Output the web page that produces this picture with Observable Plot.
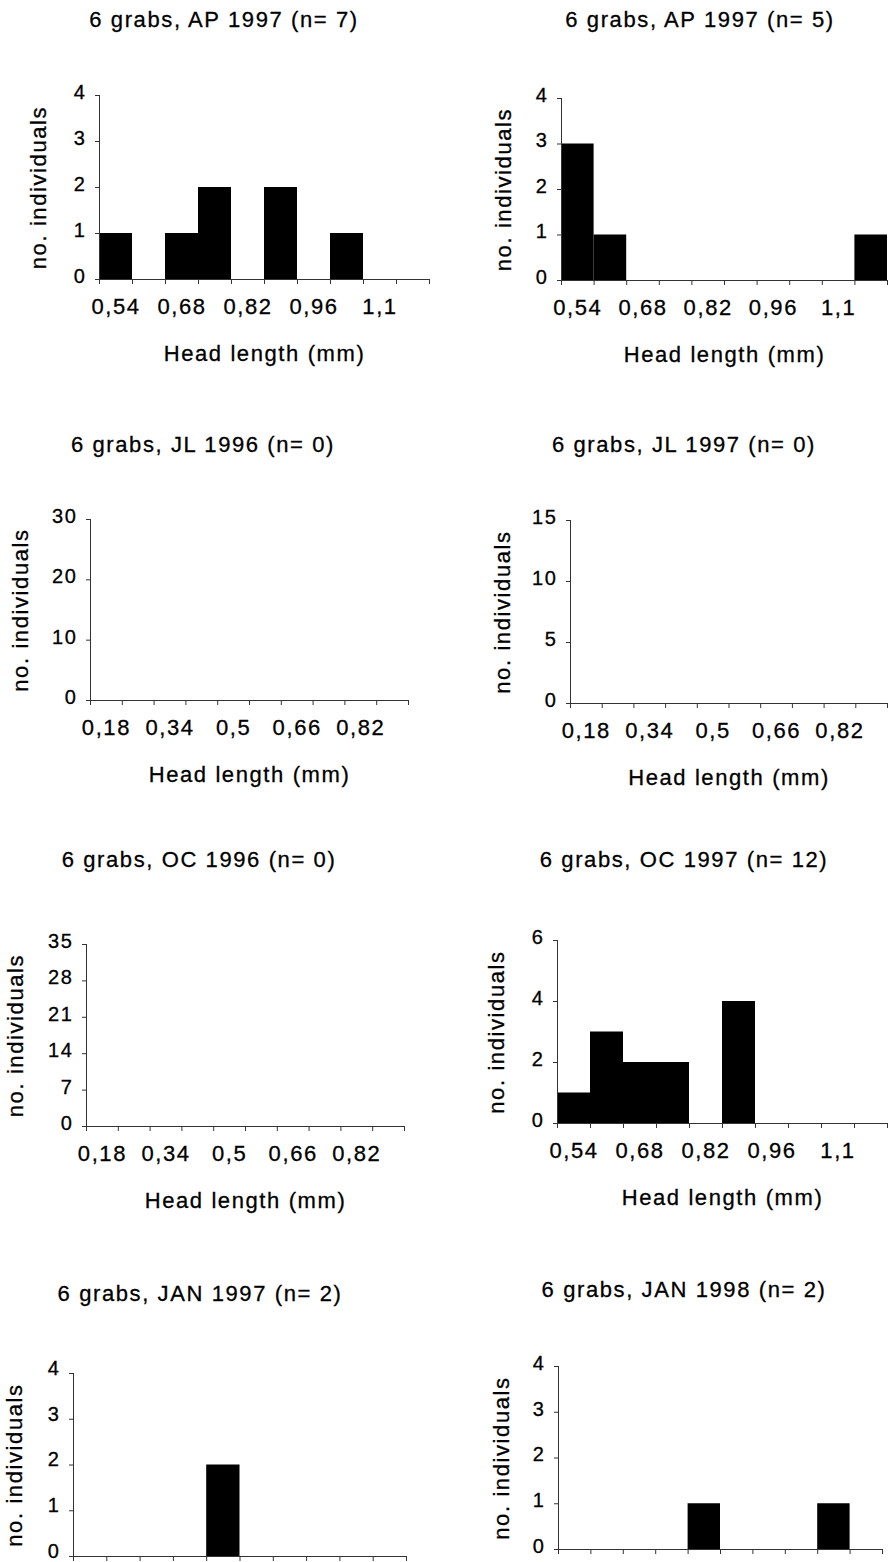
<!DOCTYPE html>
<html>
<head>
<meta charset="utf-8">
<script src="https://cdn.jsdelivr.net/npm/d3@7"></script>
<script src="https://cdn.jsdelivr.net/npm/@observablehq/plot@0.6"></script>
<style>
  html, body { margin: 0; padding: 0; background: #fff; overflow: hidden; }
  #page { position: relative; width: 888px; height: 1562px; overflow: hidden; background: #fff; }
  .title { position: absolute; font-family: "Liberation Sans", Arial, sans-serif; font-size: 22px; letter-spacing: 1.6px; line-height: 22px; white-space: nowrap; color: #000; transform: translateX(-50%); -webkit-text-stroke: 0.3px #000; }
  .panel { position: absolute; }
  .panel text { stroke: #000; stroke-width: 0.3px; }
</style>
</head>
<body>
<div id="page"></div>
<script>
// ---- data ----
const bins054 = [0.54, 0.61, 0.68, 0.75, 0.82, 0.89, 0.96, 1.03, 1.10, 1.17];
const bins018 = [0.18, 0.26, 0.34, 0.42, 0.50, 0.58, 0.66, 0.74, 0.82, 0.90];
const tickLabels054 = ["0,54", "0,68", "0,82", "0,96", "1,1"];
const tickLabels018 = ["0,18", "0,34", "0,5", "0,66", "0,82"];

const countsAP1997a = [1, 0, 1, 2, 0, 2, 0, 1, 0, 0];
const countsAP1997b = [3, 1, 0, 0, 0, 0, 0, 0, 0, 1];
const countsJL1996  = [0, 0, 0, 0, 0, 0, 0, 0, 0, 0];
const countsJL1997  = [0, 0, 0, 0, 0, 0, 0, 0, 0, 0];
const countsOC1996  = [0, 0, 0, 0, 0, 0, 0, 0, 0, 0];
const countsOC1997  = [1, 3, 2, 2, 0, 4, 0, 0, 0, 0];
const countsJAN1997 = [0, 0, 0, 0, 2, 0, 0, 0, 0, 0];
const countsJAN1998 = [0, 0, 0, 0, 1, 0, 0, 0, 1, 0];

const yTicks4  = [0, 1, 2, 3, 4];
const yTicks30 = [0, 10, 20, 30];
const yTicks15 = [0, 5, 10, 15];
const yTicks35 = [0, 7, 14, 21, 28, 35];
const yTicks6  = [0, 2, 4, 6];

const titles = [
  "6 grabs, AP 1997 (n= 7)", "6 grabs, AP 1997 (n= 5)",
  "6 grabs, JL 1996 (n= 0)", "6 grabs, JL 1997 (n= 0)",
  "6 grabs, OC 1996 (n= 0)", "6 grabs, OC 1997 (n= 12)",
  "6 grabs, JAN 1997 (n= 2)", "6 grabs, JAN 1998 (n= 2)"
];
const xLabel = "Head length (mm)";
const yLabel = "no. individuals";

// ---- layout (pixels) ----
// showX: bottom row's x labels fall below the visible page, as in the reference
const layout = [
  {left: 0,   ax: 99,  xEnd: 429, yTop: 95,   zero: 279,  tx: 224, tb: 28,   lo: 69, ty: -3, showX: true},
  {left: 444, ax: 561, xEnd: 887, yTop: 98,   zero: 280,  tx: 700, tb: 28,   lo: 66, ty: -3, showX: true},
  {left: 0,   ax: 90,  xEnd: 408, yTop: 519,  zero: 700,  tx: 203, tb: 453,  lo: 78, ty: -3, showX: true},
  {left: 444, ax: 570, xEnd: 887, yTop: 520,  zero: 703,  tx: 684, tb: 453,  lo: 76, ty: -3, showX: true},
  {left: 0,   ax: 86,  xEnd: 404, yTop: 944,  zero: 1126, tx: 199, tb: 868,  lo: 79, ty: -3, showX: true},
  {left: 444, ax: 557, xEnd: 887, yTop: 940,  zero: 1123, tx: 684, tb: 868,  lo: 69, ty: -3, showX: true},
  {left: 0,   ax: 73,  xEnd: 406, yTop: 1373, zero: 1556, tx: 200, tb: 1302, lo: 67, ty: -5, showX: false},
  {left: 444, ax: 558, xEnd: 882, yTop: 1366, zero: 1549, tx: 684, tb: 1298, lo: 65, ty: -3, showX: false}
];

const series = [countsAP1997a, countsAP1997b, countsJL1996, countsJL1997, countsOC1996, countsOC1997, countsJAN1997, countsJAN1998];
const binsets = [bins054, bins054, bins018, bins018, bins018, bins054, bins054, bins054];
const tickSets = [tickLabels054, tickLabels054, tickLabels018, tickLabels018, tickLabels018, tickLabels054, tickLabels054, tickLabels054];
const yTickSets = [yTicks4, yTicks4, yTicks30, yTicks15, yTicks35, yTicks6, yTicks4, yTicks4];

const page = document.getElementById("page");
const axisColor = "#333";

series.forEach((counts, k) => {
  const L = layout[k];
  const bins = binsets[k];
  const labels = tickSets[k];
  const yT = yTickSets[k];
  const data = counts.map((c, i) => ({i, bin: bins[i], c}));
  const mT = 20, mB = 100;
  const width = 444;
  const height = (L.zero - L.yTop) + mT + mB;
  const labelPos = labels.map((_, j) => 2 * j + 0.5);

  const marks = [
    Plot.rectY(data, {x1: d => d.i, x2: d => d.i + 1, y: d => d.c, fill: "#000"}),
    Plot.ruleY([0], {stroke: axisColor, strokeWidth: 1}),
    Plot.ruleX([0], {stroke: axisColor, strokeWidth: 1}),
    // y tick marks
    Plot.axisY({ticks: yT, tickSize: 4, stroke: axisColor, tickFormat: () => "", label: null}),
    // y tick labels (sit slightly above their ticks, as in the reference)
    Plot.axisY({ticks: yT, tickSize: 0, tickPadding: 13, dy: L.ty, fontSize: 20, label: null, tickFormat: d => String(d)}),
    // y axis title
    Plot.axisY({ticks: [], tickSize: 0, label: yLabel, labelAnchor: "center", labelOffset: L.lo, labelArrow: "none", fontSize: 22}),
    // x tick marks at bin boundaries
    Plot.axisX({ticks: d3.range(0, bins.length + 1), tickSize: 5, stroke: axisColor, tickFormat: () => "", label: null})
  ];
  if (L.showX) {
    marks.push(Plot.axisX({ticks: labelPos, tickSize: 0, tickPadding: 19, tickFormat: (d) => labels[Math.round((d - 0.5) / 2)], label: xLabel, labelAnchor: "center", labelOffset: 81, labelArrow: "none"}));
  }

  const chart = Plot.plot({
    width, height,
    marginLeft: L.ax - L.left,
    marginRight: L.left + width - L.xEnd,
    marginTop: mT,
    marginBottom: mB,
    style: {fontFamily: "'Liberation Sans', Arial, sans-serif", fontSize: "22px", letterSpacing: "1.6px", color: "#000", background: "transparent", overflow: "visible"},
    x: {type: "linear", domain: [0, bins.length]},
    y: {domain: [0, d3.max(yT)]},
    marks
  });
  chart.classList.add("panel");
  chart.style.left = L.left + "px";
  chart.style.top = (L.yTop - mT) + "px";
  chart.style.position = "absolute";
  page.appendChild(chart);

  const t = document.createElement("div");
  t.className = "title";
  t.textContent = titles[k];
  t.style.left = L.tx + "px";
  t.style.top = (L.tb - 18.6) + "px";
  page.appendChild(t);
});
</script>
</body>
</html>
